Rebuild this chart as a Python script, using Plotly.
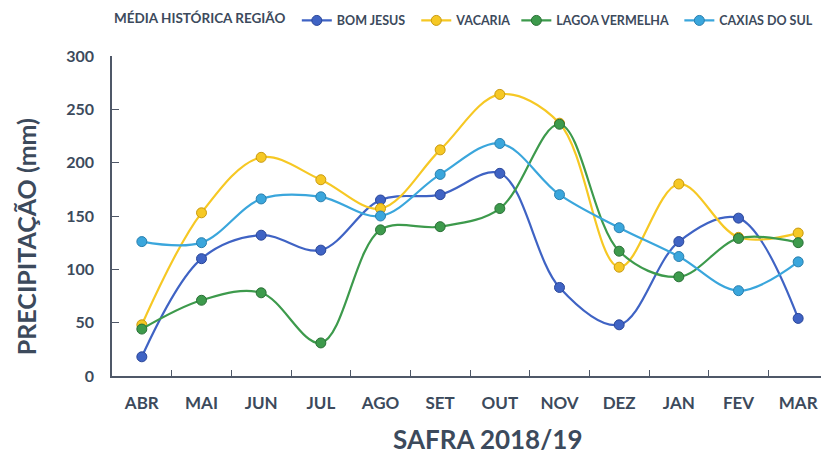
import plotly.graph_objects as go

months = ["ABR", "MAI", "JUN", "JUL", "AGO", "SET", "OUT", "NOV", "DEZ", "JAN", "FEV", "MAR"]
bom_jesus = [18, 110, 132, 118, 165, 170, 190, 83, 48, 126, 148, 54]
vacaria = [48, 153, 205, 184, 157, 212, 264, 237, 102, 180, 130, 134]
lagoa_vermelha = [44, 71, 78, 31, 137, 140, 157, 236, 117, 93, 129, 125]
caxias_do_sul = [126, 125, 166, 168, 150, 189, 218, 170, 139, 112, 80, 107]
y_ticks = [0, 50, 100, 150, 200, 250, 300]

NB = "\u00a0"
series = [
    ("BOM JESUS" + NB * 2, bom_jesus, "#3f63c4", "#2a4699"),
    ("VACARIA", vacaria, "#f6c824", "#c99a10"),
    ("LAGOA VERMELHA" + NB * 2, lagoa_vermelha, "#3d9a4c", "#2a7036"),
    ("CAXIAS DO SUL", caxias_do_sul, "#3aa6dc", "#2a7fae"),
]

FONT = "Lato"
TXT = "#3c4a5c"
AX = "#4f5868"

fig = go.Figure()
for name, vals, col, edge in series:
    fig.add_trace(go.Scatter(
        x=months, y=vals, name=f"<b>{name}</b>", mode="lines+markers",
        line=dict(color=col, width=2.2, shape="spline", smoothing=1),
        marker=dict(size=10, color=col, line=dict(color=edge, width=1)),
    ))

fig.update_layout(
    width=829, height=456,
    margin=dict(l=104, r=9, t=48, b=88, autoexpand=False),
    plot_bgcolor="white", paper_bgcolor="white",
    font=dict(family=FONT, color=TXT),
    showlegend=True,
    legend=dict(
        orientation="h", x=0.0, xanchor="left", y=1.11, yanchor="middle",
        title=dict(text="<b>MÉDIA HISTÓRICA REGIÃO</b> ", font=dict(size=13.5, color=TXT, family=FONT), side="left"),
        font=dict(size=12.5, color=TXT, family=FONT),
        itemwidth=30, tracegroupgap=0,
    ),
    xaxis=dict(
        type="category", range=[-0.5, 11.5], automargin=False,
        showgrid=False, showline=True, linecolor=AX, linewidth=1.5,
        ticks="inside", ticklen=6, tickcolor=AX, tickson="boundaries",
        tickvals=months, ticktext=[f"<b>{m}</b>" for m in months],
        tickfont=dict(size=17, color=TXT, family=FONT), ticklabelstandoff=11,
    ),
    yaxis=dict(
        range=[0, 300], automargin=False,
        tickvals=y_ticks, ticktext=[f"<b>{v}</b>" for v in y_ticks],
        showgrid=False, showline=True, linecolor=AX, linewidth=1.5,
        ticks="inside", ticklen=7, tickcolor=AX, zeroline=False,
        tickfont=dict(size=16, color=TXT, family=FONT), ticklabelstandoff=13,
    ),
    annotations=[
        dict(text="<b>SAFRA 2018/19</b>", xref="paper", yref="paper", x=0.525, y=-0.197,
             xanchor="center", yanchor="middle", showarrow=False,
             font=dict(size=26, color=TXT, family=FONT)),
        dict(text="<b>PRECIPITAÇÃO (mm)</b>", xref="paper", yref="paper", x=-0.120, y=0.434,
             xanchor="center", yanchor="middle", showarrow=False, textangle=-90,
             font=dict(size=25, color=TXT, family=FONT)),
    ],
)

fig.write_html("out.html")
